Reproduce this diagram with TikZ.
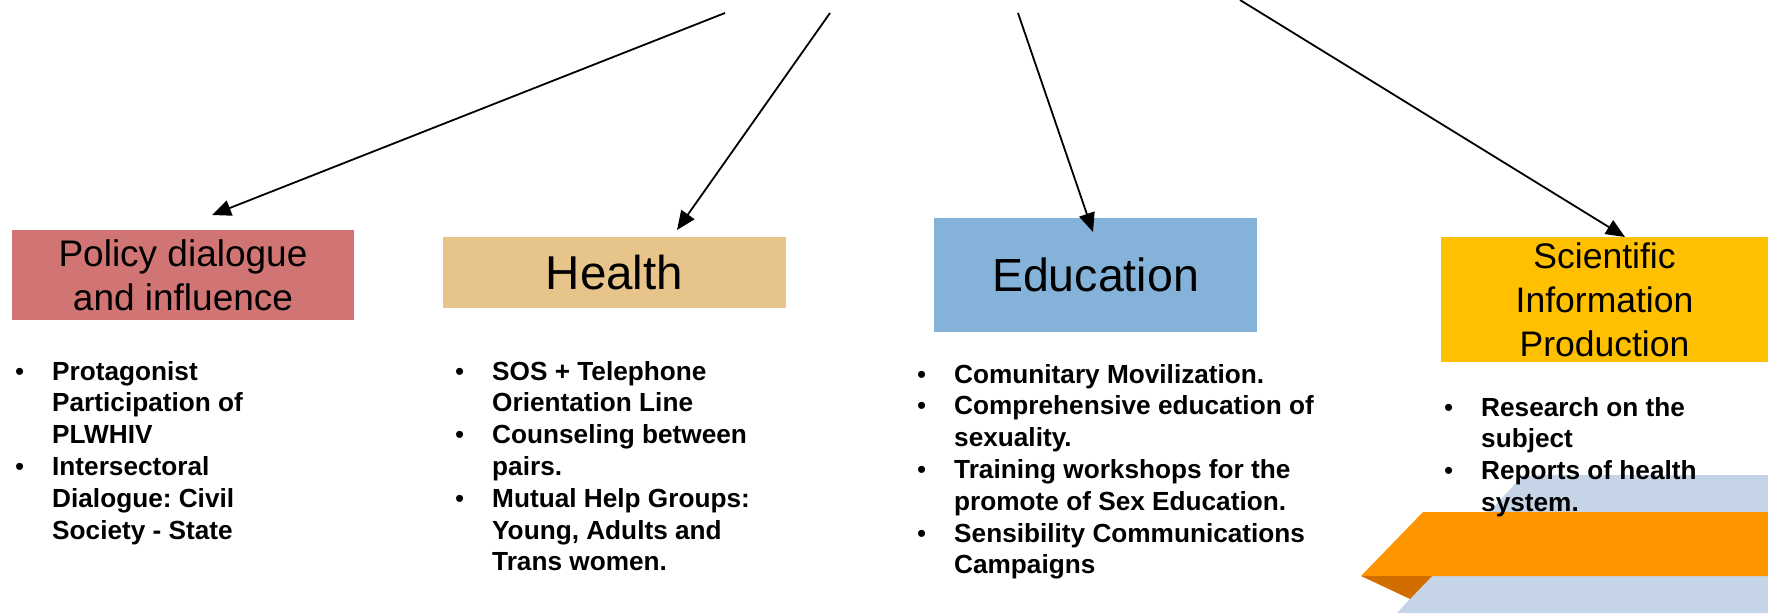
\documentclass[tikz,border=0pt]{standalone}
\usepackage{fontspec}
\setmainfont{Liberation Sans}
\usetikzlibrary{arrows.meta}
\definecolor{cpol}{HTML}{D07573}
\definecolor{chea}{HTML}{E7C489}
\definecolor{cedu}{HTML}{85B2D8}
\definecolor{csci}{HTML}{FFC000}
\definecolor{cblue}{HTML}{C6D4E8}
\definecolor{corange}{HTML}{FF9600}
\definecolor{cfold}{HTML}{D26E00}
\newcommand\bitem{\makebox[37pt][l]{{\mdseries\fontsize{26}{30}\selectfont\textbullet}}}
\newcommand\cind{\hspace*{37pt}}
\frenchspacing
\begin{document}
\begin{tikzpicture}[x=1pt,y=-1pt,
  box/.style={inner sep=0pt, align=center, text=black},
  arr/.style={line width=1.8pt, -{Triangle[length=19pt,width=16pt]}},
  blist/.style={inner sep=0pt, anchor=base west, font=\bfseries\fontsize{26.2}{31.8}\selectfont}
]
\useasboundingbox (0,0) rectangle (1768,613);

% decoration
\fill[cblue] (1523,475) -- (1768,475) -- (1768,613) -- (1397,613) -- cycle;
\fill[corange] (1423,512) -- (1768,512) -- (1768,576) -- (1361,576) -- cycle;
\fill[cfold] (1361,576) -- (1432,576) -- (1410,599) -- cycle;

% boxes
\node[box, fill=cpol, minimum width=342pt, minimum height=90pt, font=\fontsize{37}{44}\selectfont] (policy) at (183,275) {Policy dialogue\\and influence};
\node[box, fill=chea, minimum width=343pt, minimum height=71pt, font=\fontsize{47.5}{57}\selectfont] (health) at (614.5,272.5) {Health};
\node[box, fill=cedu, minimum width=323pt, minimum height=114pt, font=\fontsize{46.5}{56}\selectfont] (edu) at (1095.5,275) {Education};
\node[box, fill=csci, minimum width=327pt, minimum height=125pt, font=\fontsize{35.5}{44}\selectfont] (sci) at (1604.5,299.5) {Scientific\\Information\\Production};

% arrows
\coordinate (s1) at (725,13);
\coordinate (s2) at (830,13);
\coordinate (s3) at (1018,13);
\coordinate (s4) at (1240,0);
\coordinate (t1) at (212,215);
\coordinate (t2) at (677,230);
\coordinate (t3) at (1093,232);
\coordinate (t4) at (1625,237);
\draw[arr] (s1) -- (t1);
\draw[arr] (s2) -- (t2);
\draw[arr] (s3) -- (t3);
\draw[arr] (s4) -- (t4);

% lists
\node[blist] (l1) at (15,380) {\parbox[t]{330pt}{\bitem Protagonist\\
\cind Participation of\\
\cind PLWHIV\\
\bitem Intersectoral\\
\cind Dialogue: Civil\\
\cind Society - State}};

\node[blist] (l2) at (455,380) {\parbox[t]{400pt}{\bitem SOS + Telephone\\
\cind Orientation Line\\
\bitem Counseling between\\
\cind pairs.\\
\bitem Mutual Help Groups:\\
\cind Young, Adults and\\
\cind Trans women.}};

\node[blist] (l3) at (917,383) {\parbox[t]{450pt}{\bitem Comunitary Movilization.\\
\bitem Comprehensive education of\\
\cind sexuality.\\
\bitem Training workshops for the\\
\cind promote of Sex Education.\\
\bitem Sensibility Communications\\
\cind Campaigns}};

\node[blist] (l4) at (1444,416) {\parbox[t]{330pt}{\bitem Research on the\\
\cind subject\\
\bitem Reports of health\\
\cind system.}};
\end{tikzpicture}
\end{document}
